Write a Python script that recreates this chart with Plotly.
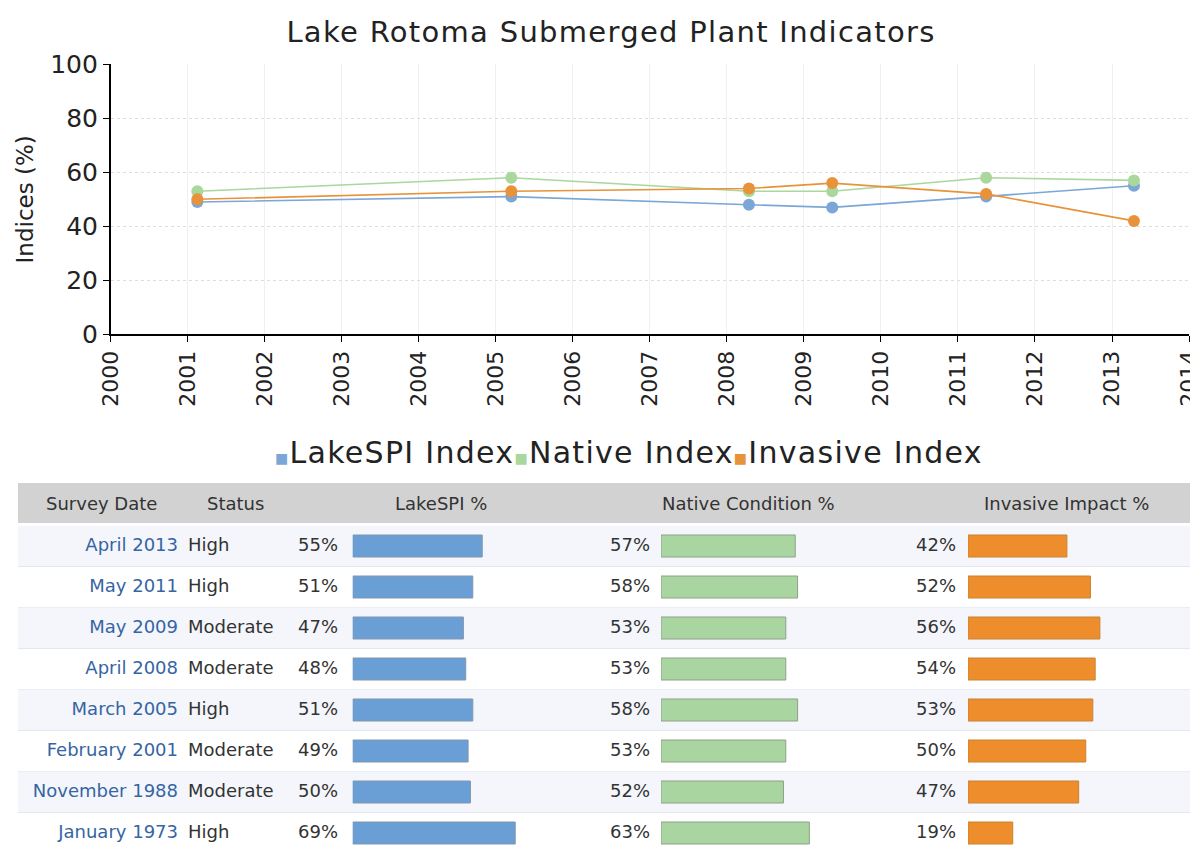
import plotly.graph_objects as go

# Survey data (newest first, as in the table)
survey_labels = ["April 2013", "May 2011", "May 2009", "April 2008",
                 "March 2005", "February 2001", "November 1988", "January 1973"]
survey_dates = ["2013-04-15", "2011-05-15", "2009-05-15", "2008-04-15",
                "2005-03-15", "2001-02-15", "1988-11-15", "1973-01-15"]
status = ["High", "High", "Moderate", "Moderate", "High", "Moderate", "Moderate", "High"]
lakespi = [55, 51, 47, 48, 51, 49, 50, 69]
native = [57, 58, 53, 53, 58, 53, 52, 63]
invasive = [42, 52, 56, 54, 53, 50, 47, 19]

year_ticks = [str(y) for y in range(2000, 2015)]
header_labels = ["Survey Date", "Status", "LakeSPI %", "Native Condition %", "Invasive Impact %"]

# page body has an 8px margin; positions below are given in page pixels
OFF = 8
W, H = 1198 - OFF, 845 - OFF
FONT = "DejaVu Sans"


def fx(p):
    return min(max((p - OFF) / W, 0), 1)


def fy(p):
    return min(max(1 - (p - OFF) / H, 0), 1)


spi_c, nat_c, inv_c = "#7ba7d7", "#a9d79c", "#e8923a"

fig = go.Figure()

# --- line chart (only surveys inside the 2000-2014 axis) ---
chart_idx = [i for i, d in enumerate(survey_dates) if d >= year_ticks[0]]
cx = [survey_dates[i] for i in chart_idx]
for name, vals, col in [("LakeSPI Index", lakespi, spi_c),
                        ("Native Index", native, nat_c),
                        ("Invasive Index", invasive, inv_c)]:
    fig.add_trace(go.Scatter(
        x=cx, y=[vals[i] for i in chart_idx], mode="lines+markers", name=name,
        line=dict(color=col, width=1.6), marker=dict(color=col, size=12),
        showlegend=False, xaxis="x", yaxis="y"))

# --- table ---
rows = list(range(len(survey_labels)))
ROW0, ROWH = 546, 41  # centre of first row, row height (px)
PX_PER_PCT = 2.355
BAR_SPAN = 220  # px width of each bar column axis

for vals, ax, col, edge in [(lakespi, "x3", "#6a9fd5", "#8396ad"),
                            (native, "x4", "#a9d5a0", "#8fa08a"),
                            (invasive, "x5", "#ee8d2c", "#c98232")]:
    fig.add_trace(go.Bar(
        x=vals, y=rows, orientation="h", xaxis=ax, yaxis="y2",
        width=22 / ROWH, marker=dict(color=col, line=dict(color=edge, width=1)),
        showlegend=False, hoverinfo="skip"))

text_font = dict(family=FONT, size=18, color="#333333")
fig.add_trace(go.Scatter(
    x=[178] * len(rows), y=rows, mode="text", text=survey_labels,
    textposition="middle left", textfont=dict(family=FONT, size=18, color="#3565a3"),
    xaxis="x2", yaxis="y2", showlegend=False, hoverinfo="skip", cliponaxis=False))
fig.add_trace(go.Scatter(
    x=[188] * len(rows), y=rows, mode="text", text=status,
    textposition="middle right", textfont=text_font,
    xaxis="x2", yaxis="y2", showlegend=False, hoverinfo="skip", cliponaxis=False))
for vals, xpos in [(lakespi, 338), (native, 650), (invasive, 956)]:
    fig.add_trace(go.Scatter(
        x=[xpos] * len(rows), y=rows, mode="text", text=[f"{v}%" for v in vals],
        textposition="middle left", textfont=text_font,
        xaxis="x2", yaxis="y2", showlegend=False, hoverinfo="skip", cliponaxis=False))

shapes = [dict(type="rect", xref="paper", yref="paper", x0=fx(18), x1=1,
               y0=fy(523), y1=fy(483), fillcolor="#d2d2d2", line_width=0, layer="below")]
for i in rows:
    if i % 2 == 0:
        shapes.append(dict(type="rect", xref="paper", yref="y2", x0=fx(18), x1=1,
                           y0=i - 0.5, y1=i + 0.5, fillcolor="#f4f6fb",
                           line_width=0, layer="below"))
    shapes.append(dict(type="line", xref="paper", yref="y2", x0=fx(18), x1=1,
                       y0=i + 0.5, y1=i + 0.5, line=dict(color="#e4e6ee", width=1),
                       layer="below"))

annotations = []
for lab, xc in zip(header_labels, [101, 235, 441, 748, 1066]):
    annotations.append(dict(text=lab, xref="x2", yref="paper", x=xc, y=fy(503),
                            showarrow=False, xanchor="center", yanchor="middle",
                            font=dict(family=FONT, size=18, color="#333333")))

# legend drawn as one line of text with coloured squares
sq = '<span style="color:{};font-size:14px">■</span>'
legend_txt = ('<span style="letter-spacing:1.3px">' + sq.format(spi_c) + "LakeSPI Index"
              + sq.format(nat_c) + "Native Index" + sq.format(inv_c) + "Invasive Index"
              + "</span>")
annotations.append(dict(text=legend_txt, xref="paper", yref="paper", x=fx(629), y=fy(452),
                        showarrow=False, xanchor="center", yanchor="middle",
                        font=dict(family=FONT, size=30, color="#222222")))

bar_axis = dict(range=[0, BAR_SPAN / PX_PER_PCT], visible=False, anchor="y2",
                fixedrange=True, automargin=False)
fig.update_layout(
    width=W, height=H, margin=dict(l=0, r=0, t=0, b=0, autoexpand=False),
    paper_bgcolor="white", plot_bgcolor="rgba(0,0,0,0)",
    font=dict(family=FONT, color="#222222"),
    title=dict(text='<span style="letter-spacing:1.3px">Lake Rotoma Submerged Plant Indicators</span>',
               x=fx(611), y=fy(32), xanchor="center", yanchor="middle",
               font=dict(family=FONT, size=29, color="#222222")),
    xaxis=dict(domain=[fx(110.7), fx(1189)], type="date", automargin=False,
               range=[year_ticks[0] + "-01-01", year_ticks[-1] + "-01-01"],
               dtick="M12", tickformat="%Y", tickangle=-90, anchor="y",
               ticklabeloverflow="allow",
               showline=True, linecolor="black", linewidth=1.5,
               ticks="outside", ticklen=6, tickcolor="black",
               showgrid=True, gridcolor="#f0f0f0", tickfont=dict(size=22)),
    yaxis=dict(domain=[fy(334.3), fy(64.3)], range=[0, 100], dtick=20, anchor="x",
               automargin=False,
               showline=True, linecolor="black", linewidth=1.5,
               ticks="outside", ticklen=6, tickcolor="black", zeroline=False,
               showgrid=True, gridcolor="#dedede", griddash="dot",
               tickfont=dict(size=25),
               title=dict(text="Indices (%)", font=dict(size=23), standoff=10)),
    xaxis2=dict(domain=[0, 1], range=[OFF, OFF + W], visible=False, anchor="y2",
                fixedrange=True, automargin=False),
    yaxis2=dict(domain=[0, fy(ROW0 - ROWH / 2)], automargin=False,
                range=[(OFF + H - ROW0) / ROWH, -0.5], visible=False, anchor="x2"),
    xaxis3=dict(domain=[fx(352.7), fx(352.7 + BAR_SPAN)], **bar_axis),
    xaxis4=dict(domain=[fx(661), fx(661 + BAR_SPAN)], **bar_axis),
    xaxis5=dict(domain=[fx(968), fx(968 + BAR_SPAN)], **bar_axis),
    shapes=shapes, annotations=annotations,
)

fig.write_html("out.html")
